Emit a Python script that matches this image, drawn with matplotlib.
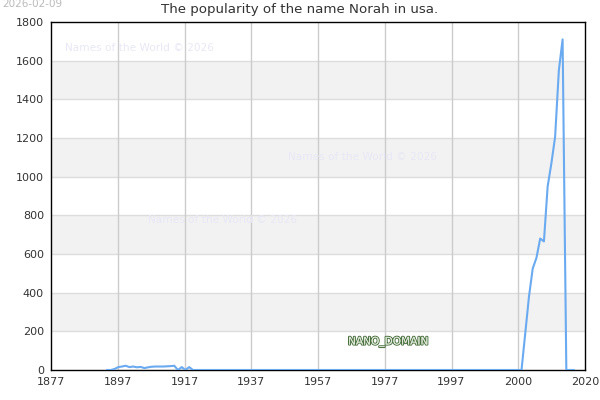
import matplotlib
matplotlib.use("Agg")
import matplotlib.pyplot as plt
import matplotlib.patheffects as pe
import numpy as np

# yearly counts (zero where the line sits on the axis)
early_years = list(range(1892, 1917))
early_counts = [0, 0, 5, 15, 18, 22, 15, 18, 14, 16, 10, 14, 17, 18, 18, 18, 19, 20, 22, 0, 15, 0, 15, 0, 0]
mid_years = list(range(1917, 2004))
mid_counts = [0] * len(mid_years)
late_years = list(range(2004, 2018))
late_counts = [190, 380, 525, 580, 680, 665, 950, 1069, 1207, 1550, 1710, 0, 0, 0]

years = early_years + mid_years + late_years
counts = early_counts + mid_counts + late_counts

tick_labels = ["1877", "1897", "1917", "1937", "1957", "1977", "1997", "2000", "2020"]
y_ticks = list(range(0, 1801, 200))

fig = plt.figure(figsize=(6, 4), dpi=100)
ax = fig.add_axes([51 / 600, 30 / 400, 534 / 600, 348 / 400])

ax.set_xlim(1877, 2020)
ax.set_ylim(0, 1800)

# alternating grey bands
for lo in range(200, 1800, 400):
    ax.axhspan(lo, lo + 200, color="#f2f2f2", zorder=0, lw=0)
for yv in y_ticks[1:-1]:
    ax.axhline(yv, color="#dddddd", lw=1, zorder=1)

xt = np.linspace(1877, 2020, len(tick_labels))
for xv in xt[1:-1]:
    ax.axvline(xv, color="#cccccc", lw=1, zorder=1)

ax.plot(years, counts, color="#6aaaf0", lw=1.5, zorder=3)

ax.set_xticks(xt)
ax.set_xticklabels(tick_labels)
ax.set_yticks(y_ticks)
ax.tick_params(length=0, labelsize=8, labelcolor="#333333", pad=5)
for s in ax.spines.values():
    s.set_color("black")
    s.set_linewidth(1)

fig.text(0.5, 1 - 10 / 400, "The popularity of the name Norah in usa.",
         ha="center", va="center", fontsize=9.6, color="#333333")
fig.text(2 / 600, 1 - 4 / 400, "2026-02-09", ha="left", va="center",
         fontsize=7.5, color="#bbbbbb")

for wx, wy in [(65, 48), (288, 157), (148, 220)]:
    fig.text(wx / 600, 1 - wy / 400, "Names of the World © 2026", ha="left",
             va="center", fontsize=7.6, color="#e8e8f6", zorder=5)

fig.text(348 / 600, 1 - 342 / 400, "NANO_DOMAIN", ha="left", va="center",
         fontsize=7.6, color="#dde8d6", zorder=6,
         path_effects=[pe.withStroke(linewidth=1.5, foreground="#4a7040"),
                       pe.Normal()])

fig.savefig("out.png", dpi=100)
